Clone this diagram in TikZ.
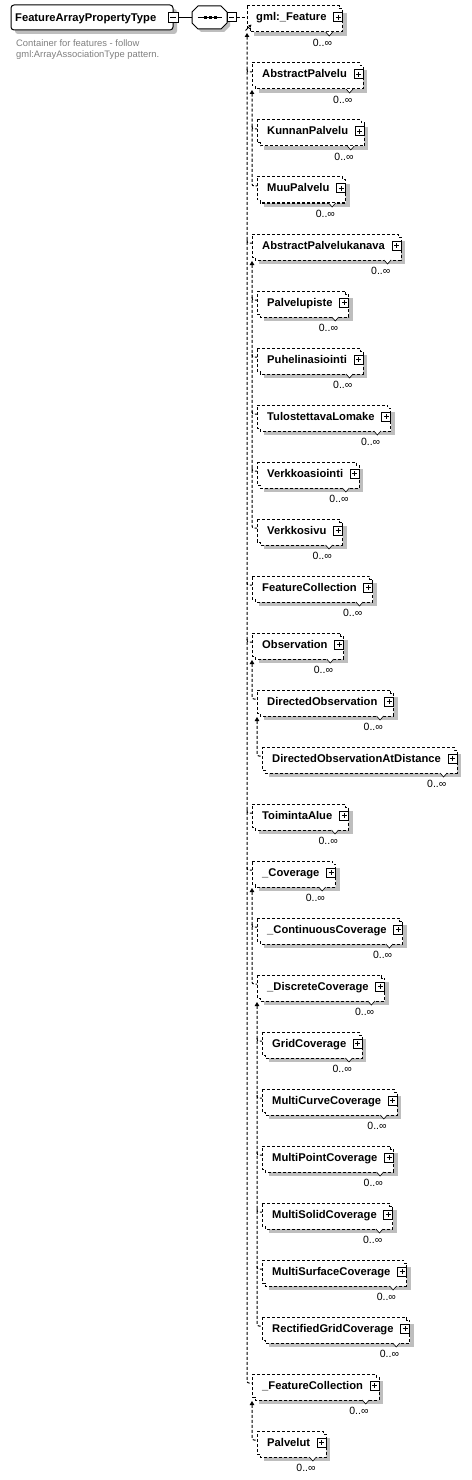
\documentclass[tikz,border=0pt]{standalone}
\usepackage{fontspec}
\setmainfont{Liberation Sans}
\usetikzlibrary{arrows.meta}
\pgfdeclarelayer{bg}
\pgfsetlayers{bg,main}
\definecolor{shadowgray}{RGB}{190,190,190}
\definecolor{descgray}{RGB}{128,128,128}
\newdimen\elwd
\newcommand\efont{\fontsize{11.2bp}{13bp}\selectfont\bfseries}
\newcommand\mfont{\fontsize{10.5bp}{12bp}\selectfont}
\newcommand\dfont{\fontsize{9.4bp}{11bp}\selectfont}
\tikzset{
  dsh/.style={line width=1bp, dash pattern=on 3bp off 2bp},
  etext/.style={anchor=base west, inner sep=0pt, font=\efont},
  mtext/.style={anchor=base east, inner sep=0pt, font=\mfont},
  dtext/.style={anchor=base west, inner sep=0pt, font=\dfont, text=descgray},
  conn/.style={dsh, rounded corners=2bp, {Triangle[length=4bp,width=4.5bp]}-},
  stub/.style={dsh, rounded corners=2bp},
  iconbox/.style={draw, fill=white, line width=1bp, minimum size=9bp, inner sep=0pt},
}
\newcommand\elem[5]{% id, left, row, text, text offset
  \pgfmathsetmacro\eT{6+57*#3}%
  \pgfmathsetmacro\eL{#2}%
  \node[etext] (#1) at (\eL+#5,\eT+15) {#4};
  \pgfextractx{\elwd}{\pgfpointanchor{#1}{east}}%
  \pgfmathsetmacro\eR{\the\elwd/1.00375+16}%
  \begin{pgfonlayer}{bg}
  \fill[shadowgray] (\eL+7,\eT+7) rectangle (\eR+4,\eT+30);
  \draw[dsh, fill=white] (\eL,\eT) -- (\eR-3,\eT) -- (\eR-3,\eT+3) -- (\eR,\eT+3) -- (\eR,\eT+26) -- (\eL+3,\eT+26) -- (\eL+3,\eT+23) -- (\eL,\eT+23) -- cycle;
  \end{pgfonlayer}
  \node[iconbox] (#1-plus) at (\eR-4.5,\eT+11.5) {};
  \draw[line width=1bp] (\eR-7,\eT+11.5) -- (\eR-2,\eT+11.5) (\eR-4.5,\eT+9) -- (\eR-4.5,\eT+14);
  \draw[line width=0.6bp, fill=white] (\eR-17,\eT+26) -- (\eR-13.5,\eT+30) -- (\eR-10,\eT+26);
  \node[mtext] (#1-m) at (\eR-10.5,\eT+40.5) {0..∞};
  \coordinate (#1-in) at (\eL,\eT+9);
  \coordinate (#1-out) at (\eL,\eT+27);
}
% trunk from parent to its last member, short stubs to the others
\newcommand\members[3]{% parent, other members, last member
  \draw[conn] (#1-out) |- (#3-in);
  \foreach \c in {#2}
    \draw[stub] (#1-out |- \c-in) ++(0,-3) |- (\c-in);
}
\begin{document}
\begin{tikzpicture}[x=1bp,y=-1bp]
\begin{pgfonlayer}{bg}
\fill[white] (0,0) rectangle (472,1480);
\end{pgfonlayer}
\useasboundingbox (0,0) rectangle (472,1480);

% root type
\fill[shadowgray, rounded corners=3bp] (15,9) rectangle (177,34);
\draw[line width=1bp, fill=white, rounded corners=3bp] (11,5) rectangle (173,30);
\node[etext] (root) at (15,21.5) {FeatureArrayPropertyType};
\node[iconbox, minimum size=10bp] (rootminus) at (173,17.5) {};
\draw[line width=1bp] (170,17.5) -- (176,17.5);
\node[dtext] (desc1) at (16,46.5) {Container for features - follow};
\node[dtext] (desc2) at (16,57.5) {gml:ArrayAssociationType pattern.};

% sequence compositor
\fill[shadowgray] (195,15) -- (201,9) -- (224,9) -- (230,15) -- (230,26) -- (224,32) -- (201,32) -- (195,26) -- cycle;
\draw[line width=1bp, fill=white] (192,12) -- (198,6) -- (221,6) -- (227,12) -- (227,23) -- (221,29) -- (198,29) -- (192,23) -- cycle;
\coordinate (seq-w) at (192,17.5);
\draw[line width=1bp] (197.5,17.5) -- (221.5,17.5);
\fill (203.5,16) rectangle (206.5,19);
\fill (208.5,16) rectangle (211.5,19);
\fill (213.5,16) rectangle (216.5,19);
\node[iconbox] (seqminus) at (231.5,17.5) {};
\draw[line width=1bp] (229,17.5) -- (234,17.5);
\draw[line width=1bp] (rootminus.east) -- (seq-w);

% elements
\elem{Feature}{247}{0}{gml:\_Feature}{9}
\elem{AbsPalvelu}{252}{1}{AbstractPalvelu}{10}
\elem{Kunnan}{257}{2}{KunnanPalvelu}{10}
\elem{Muu}{257}{3}{MuuPalvelu}{10}
\elem{AbsKanava}{252}{4}{AbstractPalvelukanava}{10}
\elem{Palvelupiste}{257}{5}{Palvelupiste}{10}
\elem{Puhelin}{257}{6}{Puhelinasiointi}{10}
\elem{Lomake}{257}{7}{TulostettavaLomake}{10}
\elem{Verkkoasiointi}{257}{8}{Verkkoasiointi}{10}
\elem{Verkkosivu}{257}{9}{Verkkosivu}{10}
\elem{FeatColl}{252}{10}{FeatureCollection}{10}
\elem{Obs}{252}{11}{Observation}{10}
\elem{DirObs}{257}{12}{DirectedObservation}{10}
\elem{DirObsDist}{262}{13}{DirectedObservationAtDistance}{10}
\elem{Toiminta}{252}{14}{ToimintaAlue}{10}
\elem{Cov}{252}{15}{\_Coverage}{10}
\elem{ContCov}{257}{16}{\_ContinuousCoverage}{10}
\elem{DiscCov}{257}{17}{\_DiscreteCoverage}{10}
\elem{Grid}{262}{18}{GridCoverage}{10}
\elem{MCurve}{262}{19}{MultiCurveCoverage}{10}
\elem{MPoint}{262}{20}{MultiPointCoverage}{10}
\elem{MSolid}{262}{21}{MultiSolidCoverage}{10}
\elem{MSurface}{262}{22}{MultiSurfaceCoverage}{10}
\elem{RectGrid}{262}{23}{RectifiedGridCoverage}{10}
\elem{UFeatColl}{252}{24}{\_FeatureCollection}{10}
\elem{Palvelut}{257}{25}{Palvelut}{10}

% head connections
\coordinate (Feature-out) at (247,33);
\coordinate (Feature-w) at (247,17.5);
\coordinate (hdiag-a) at (245.5,30.5);
\coordinate (hdiag-b) at (251.5,24.5);
\draw[dsh] (seqminus.east) -- (Feature-w);
\draw[line width=0.8bp, -{Triangle[length=3bp,width=3bp]}] (hdiag-a) -- (hdiag-b);

% substitution group connectors
\members{Feature}{AbsPalvelu,AbsKanava,FeatColl,Obs,Toiminta,Cov}{UFeatColl}
\members{AbsPalvelu}{Kunnan}{Muu}
\members{AbsKanava}{Palvelupiste,Puhelin,Lomake,Verkkoasiointi}{Verkkosivu}
\draw[conn] (Obs-out) |- (DirObs-in);
\draw[conn] (DirObs-out) |- (DirObsDist-in);
\members{Cov}{ContCov}{DiscCov}
\members{DiscCov}{Grid,MCurve,MPoint,MSolid,MSurface}{RectGrid}
\draw[conn] (UFeatColl-out) |- (Palvelut-in);
\end{tikzpicture}
\end{document}
